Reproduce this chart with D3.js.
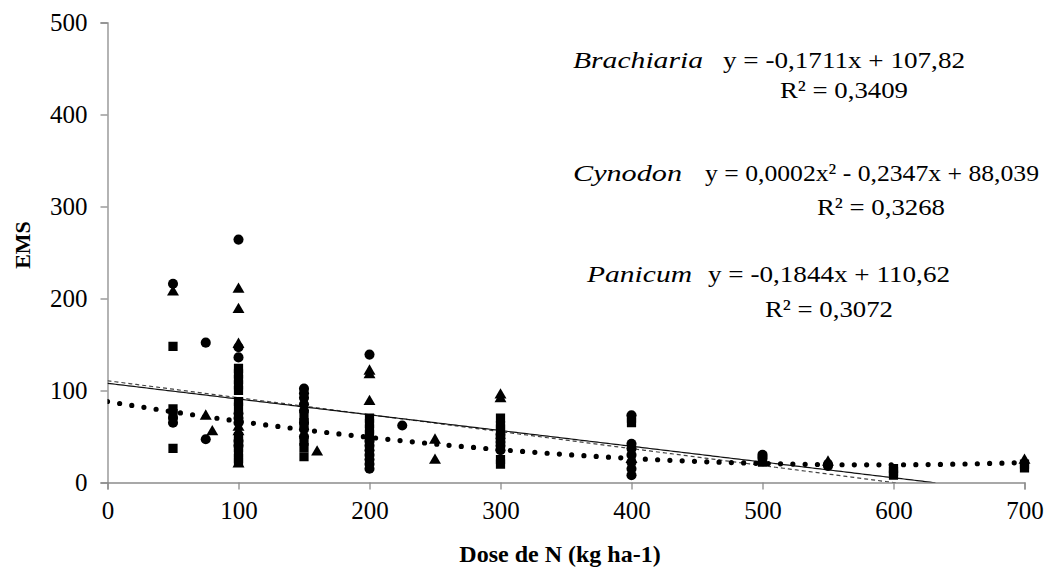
<!DOCTYPE html>
<html><head><meta charset="utf-8">
<script src="https://cdn.jsdelivr.net/npm/d3@7"></script>
<style>
html,body{margin:0;padding:0;background:#fff;}
text{font-family:"Liberation Serif","Times New Roman",serif;fill:#000;}
</style></head>
<body><svg id="chart" width="1058" height="568"></svg>
<script>
// ---- data ----
const xTicks = [0,100,200,300,400,500,600,700];
const yTicks = [0,100,200,300,400,500];
const brachiaria = [[50,216],[50,70],[50,65],[75,152],[75,47],[100,264],[100,147],[100,136],[100,75],[100,70],[100,65],[100,45],[100,40],
  [150,102],[150,97],[150,92],[150,85],[150,78],[150,65],[150,58],[150,50],[200,139],[200,45],[200,40],[200,35],[200,30],[200,25],[200,20],[200,15],
  [225,62],[300,52],[300,48],[300,44],[300,40],[300,35],[400,73],[400,42],[400,37],[400,30],[400,22],[400,15],[400,8],[500,30],[500,27],[550,20],[550,18]];
const cynodon = [[50,207],[75,72],[80,55],[100,210],[100,188],[100,150],[100,60],[100,55],[100,20],[160,33],[200,121],[200,117],[200,88],
  [250,46],[250,24],[300,95],[300,91],[400,25],[500,24],[550,22],[700,24]];
const panicum = [[50,148],[50,80],[50,75],[50,37],[100,124],[100,118],[100,112],[100,106],[100,100],[100,88],[100,82],[100,50],[100,45],[100,38],[100,32],[100,26],[100,22],
  [150,72],[150,65],[150,45],[150,38],[150,28],[200,70],[200,64],[200,58],[200,52],[200,45],[300,70],[300,62],[300,58],[300,25],[300,20],
  [400,70],[400,65],[500,28],[500,22],[600,15],[600,12],[600,8],[700,20],[700,16]];
// trendline coefficients [a2, a1, a0]
const brachCoef = [0, -0.1711, 107.82];
const cynoCoef = [0.0002, -0.2347, 88.039];
const paniCoef = [0, -0.1844, 110.62];
const eqLabels = [
  {name:"Brachiaria", eq:"y = -0,1711x + 107,82", r2:"R² = 0,3409"},
  {name:"Cynodon", eq:"y = 0,0002x² - 0,2347x + 88,039", r2:"R² = 0,3268"},
  {name:"Panicum", eq:"y = -0,1844x + 110,62", r2:"R² = 0,3072"}
];

// ---- layout ----
const svg = d3.select("#chart");
const x = d3.scaleLinear().domain([0,700]).range([107.5,1024.5]);
const y = d3.scaleLinear().domain([0,500]).range([482.5,22.5]);
const axisColor = "#8c8c8c";

svg.append("defs").append("clipPath").attr("id","plotclip")
  .append("rect").attr("x",x(0)).attr("y",y(500)-5).attr("width",x(700)-x(0)+10).attr("height",y(0)-y(500)+5);

// y axis
const yAxis = svg.append("g").attr("transform",`translate(${x(0)},0)`)
  .call(d3.axisLeft(y).tickValues(yTicks).tickSize(7).tickPadding(13).tickFormat(d3.format("d")));
yAxis.select(".domain").attr("stroke",axisColor).attr("stroke-width",1.3);
yAxis.selectAll(".tick line").attr("stroke",axisColor).attr("stroke-width",1.3);
yAxis.selectAll(".tick text").style("font-size","25px").attr("font-family","Liberation Serif");

// x axis
const xAxis = svg.append("g").attr("transform",`translate(0,${y(0)})`)
  .call(d3.axisBottom(x).tickValues(xTicks).tickSize(7).tickPadding(12).tickFormat(d3.format("d")));
xAxis.select(".domain").attr("stroke",axisColor).attr("stroke-width",1.3);
xAxis.selectAll(".tick line").attr("stroke",axisColor).attr("stroke-width",1.3);
xAxis.selectAll(".tick text").style("font-size","25px").attr("font-family","Liberation Serif");

// axis titles
svg.append("text").attr("x",560).attr("y",562).attr("text-anchor","middle")
  .style("font-size","24px").style("font-weight","bold").text("Dose de N (kg ha-1)");
svg.append("text").attr("transform","translate(30,245) rotate(-90)").attr("text-anchor","middle")
  .style("font-size","22px").style("font-weight","bold").text("EMS");

// trendlines
const g = svg.append("g").attr("clip-path","url(#plotclip)");
const poly = c => xv => c[0]*xv*xv + c[1]*xv + c[2];
const xs = d3.range(0,700.01,2);
const line = f => d3.line().x(d=>x(d)).y(d=>y(f(d)));
function trend(c){ const f = poly(c); return xs.filter(v=>f(v)>=-0.5); }

g.append("path").datum(trend(paniCoef)).attr("d",line(poly(paniCoef)))
  .attr("fill","none").attr("stroke","#444").attr("stroke-width",1.2).attr("stroke-dasharray","4,3");
g.append("path").datum(trend(brachCoef)).attr("d",line(poly(brachCoef)))
  .attr("fill","none").attr("stroke","#111").attr("stroke-width",1.2);

// markers
const sym = (type,size) => d3.symbol().type(type).size(size)();
g.selectAll(".sq").data(panicum).join("path").attr("class","sq")
  .attr("transform",d=>`translate(${x(d[0])},${y(d[1])})`).attr("d",sym(d3.symbolSquare,85)).attr("fill","#000");
g.selectAll(".ci").data(brachiaria).join("path").attr("class","ci")
  .attr("transform",d=>`translate(${x(d[0])},${y(d[1])})`).attr("d",sym(d3.symbolCircle,80)).attr("fill","#000");
g.selectAll(".tr").data(cynodon).join("path").attr("class","tr")
  .attr("transform",d=>`translate(${x(d[0])},${y(d[1])})`).attr("d",sym(d3.symbolTriangle,62)).attr("fill","#000");

// dotted quadratic trend
g.append("path").datum(trend(cynoCoef)).attr("d",line(poly(cynoCoef)))
  .attr("fill","none").attr("stroke","#000").attr("stroke-width",5.2)
  .attr("stroke-linecap","round").attr("stroke-dasharray","0,12.3");

// equation annotations
const eqPos = [
  {nx:573, ny:68, nl:130, ex:723, el:242, rx:780, ry:98},
  {nx:573, ny:181, nl:109, ex:705, el:334, rx:817, ry:215},
  {nx:587, ny:282, nl:105, ex:708, el:242, rx:765, ry:317}
];
eqLabels.forEach((e,i)=>{
  const p = eqPos[i];
  svg.append("text").attr("x",p.nx).attr("y",p.ny).style("font-size","24px").style("font-style","italic")
    .attr("textLength",p.nl).attr("lengthAdjust","spacingAndGlyphs").text(e.name);
  svg.append("text").attr("x",p.ex).attr("y",p.ny).style("font-size","24px")
    .attr("textLength",p.el).attr("lengthAdjust","spacingAndGlyphs").text(e.eq);
  svg.append("text").attr("x",p.rx).attr("y",p.ry).style("font-size","24px")
    .attr("textLength",128).attr("lengthAdjust","spacingAndGlyphs").text(e.r2);
});
</script></body></html>
